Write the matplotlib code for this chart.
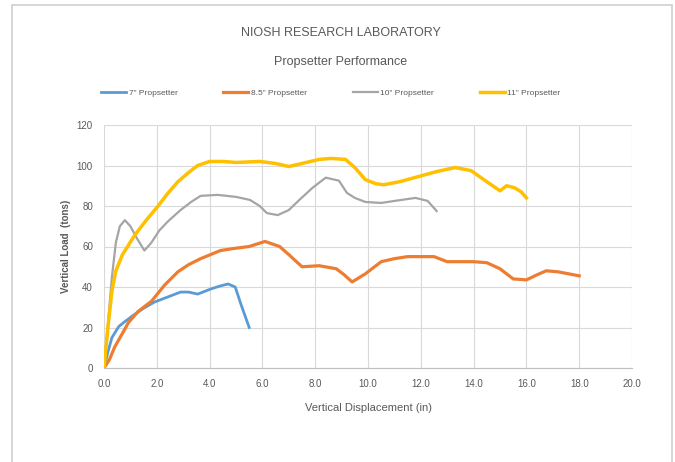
import matplotlib
matplotlib.use("Agg")
import matplotlib.pyplot as plt
from matplotlib.patches import Rectangle

plt.rcParams['font.family'] = ['Liberation Sans', 'DejaVu Sans']

# 7" propsetter
x_7 = [0, 0.15, 0.3, 0.56, 0.8, 1.16, 1.5, 1.9, 2.4, 2.9, 3.2, 3.55, 4.04, 4.4, 4.7, 4.97, 5.2, 5.5]
y_7 = [0, 8, 15, 20.5, 23, 26.5, 29.5, 32.5, 35, 37.5, 37.5, 36.5, 39, 40.5, 41.5, 40, 31, 20]

# 8.5" propsetter
x_85 = [0, 0.2, 0.41, 0.65, 0.93, 1.3, 1.8, 2.3, 2.8, 3.2, 3.66, 4.41, 4.9, 5.5, 6.1, 6.65, 7.0,
        7.5, 8.15, 8.8, 9.1, 9.4, 9.9, 10.5, 11.0, 11.5, 12.5, 13.0, 14.0, 14.5, 15.0, 15.5,
        16.0, 16.4, 16.75, 17.2, 17.6, 18.0]
y_85 = [0, 4, 10.5, 16, 22.5, 28, 33, 41, 47.5, 51, 54, 58, 59, 60, 62.5, 60, 56,
        50, 50.5, 49, 46, 42.5, 46.5, 52.5, 54, 55, 55, 52.5, 52.5, 52, 49, 44,
        43.5, 46, 48, 47.5, 46.5, 45.5]

# 10" propsetter
x_10 = [0, 0.15, 0.3, 0.45, 0.6, 0.79, 1.0, 1.25, 1.53, 1.8, 2.1, 2.43, 2.9, 3.3, 3.66, 4.3,
        5.0, 5.53, 5.9, 6.17, 6.58, 7.0, 7.4, 7.9, 8.4, 8.9, 9.2, 9.5, 9.9, 10.5, 11.0,
        11.8, 12.26, 12.6]
y_10 = [0, 22, 45, 62, 70, 73, 70, 64, 58, 62, 68, 72.5, 78, 82, 85, 85.5,
        84.5, 83, 80, 76.5, 75.5, 78, 83, 89, 94, 92.5, 86.5, 84, 82, 81.5, 82.5,
        84, 82.5, 77.5]

# 11" propsetter
x_11 = [0, 0.15, 0.3, 0.45, 0.7, 1.16, 1.6, 2.05, 2.4, 2.8, 3.2, 3.55, 4.0, 4.5, 5.0, 5.9,
        6.5, 7.0, 7.5, 8.15, 8.6, 9.15, 9.5, 9.9, 10.3, 10.6, 11.2, 11.9, 12.6, 13.3, 13.9,
        14.5, 15.0, 15.25, 15.55, 15.8, 16.0]
y_11 = [0, 20, 38, 48, 56, 65.5, 73, 80, 86, 92, 96.5, 100, 102, 102, 101.5, 102,
        101, 99.5, 101, 103, 103.5, 103, 99, 93, 91, 90.5, 92, 94.5, 97, 99, 97.5,
        92, 87.5, 90, 89, 87, 84]

x_ticks = [0, 2, 4, 6, 8, 10, 12, 14, 16, 18, 20]
y_ticks = [0, 20, 40, 60, 80, 100, 120]

txt = '#595959'
grid = '#d9d9d9'

fig = plt.figure(figsize=(6.75, 4.62), dpi=100)
fig.patches.append(Rectangle((12 / 675, -0.1), 660 / 675, 1 - 5 / 462 + 0.1,
                             transform=fig.transFigure, fill=False,
                             edgecolor='#d0d0d0', linewidth=1.2))

ax = fig.add_axes([104 / 675, 1 - 368 / 462, 528 / 675, 243 / 462])

ax.plot(x_7, y_7, color='#5B9BD5', linewidth=2.0, label='7" Propsetter')
ax.plot(x_85, y_85, color='#ED7D31', linewidth=2.3, label='8.5" Propsetter')
ax.plot(x_10, y_10, color='#A5A5A5', linewidth=1.6, label='10" Propsetter')
ax.plot(x_11, y_11, color='#FFC000', linewidth=2.5, label='11" Propsetter')

ax.set_xlim(0, 20)
ax.set_ylim(0, 120)
ax.set_xticks(x_ticks)
ax.set_xticklabels([f'{v:.1f}' for v in x_ticks])
ax.set_yticks(y_ticks)
ax.grid(True, color=grid, linewidth=0.8)
ax.set_axisbelow(True)
for side in ['top', 'right', 'left']:
    ax.spines[side].set_visible(False)
ax.spines['bottom'].set_color('#bfbfbf')
ax.tick_params(length=0, labelsize=7, labelcolor=txt, pad=8)

ax.set_xlabel('Vertical Displacement (in)', fontsize=8, color=txt, labelpad=10)
ax.set_ylabel('Vertical Load  (tons)', fontsize=7, color=txt, fontweight='bold', labelpad=4)

fig.text(0.505, 1 - 33 / 462, 'NIOSH RESEARCH LABORATORY', ha='center', va='center',
         fontsize=9, color=txt)
fig.text(0.505, 1 - 62 / 462, 'Propsetter Performance', ha='center', va='center',
         fontsize=9, color=txt)

fig.legend(loc='center', bbox_to_anchor=(0.49, 1 - 93 / 462), ncol=4, frameon=False,
           fontsize=6, labelcolor=txt, handlelength=3.0, handletextpad=0.3,
           columnspacing=5.5)

fig.savefig('out.png', dpi=100)
plt.close(fig)
